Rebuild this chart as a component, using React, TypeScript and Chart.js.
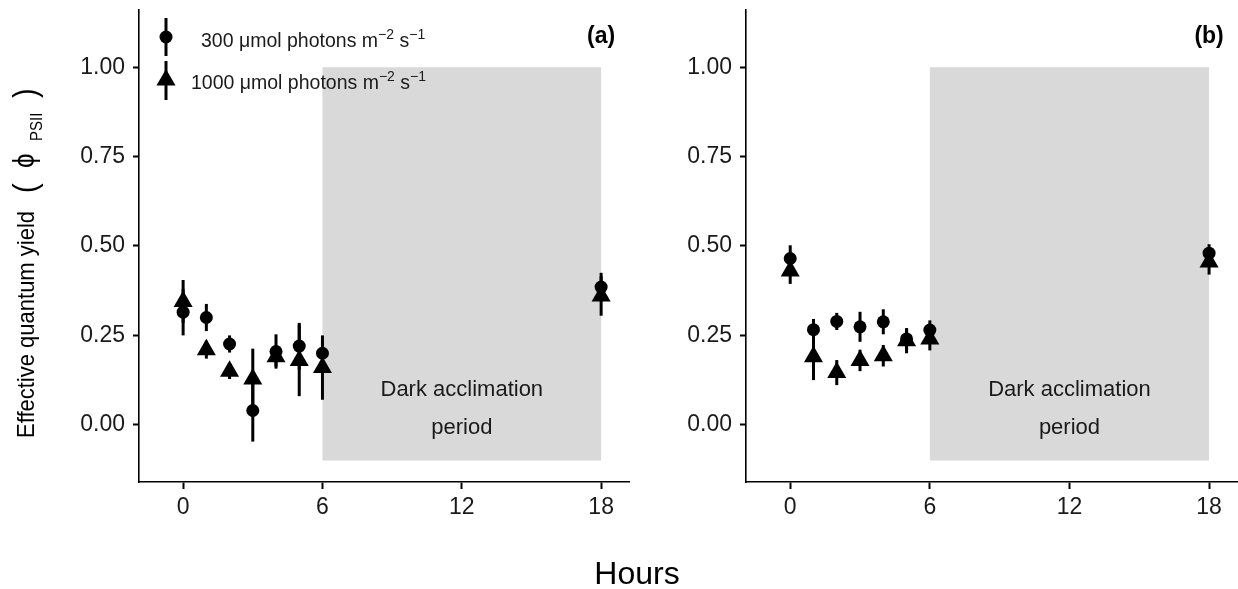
import React, { useEffect, useRef } from "react";
import { Chart, registerables } from "chart.js";

Chart.register(...registerables);

// ---------- data ----------
const hours = [0, 1, 2, 3, 4, 5, 6, 18];

// panel (a)
const aLowMean = [0.315, 0.3, 0.226, 0.04, 0.205, 0.22, 0.2, 0.385];
const aLowErr = [0.065, 0.038, 0.024, 0.087, 0.048, 0.065, 0.035, 0.04];
const aHighMean = [0.345, 0.21, 0.15, 0.128, 0.19, 0.18, 0.16, 0.36];
const aHighErr = [0.06, 0.025, 0.022, 0.085, 0.027, 0.1, 0.09, 0.055];

// panel (b)
const bLowMean = [0.465, 0.266, 0.289, 0.274, 0.288, 0.24, 0.265, 0.48];
const bLowErr = [0.037, 0.03, 0.024, 0.042, 0.035, 0.03, 0.027, 0.025];
const bHighMean = [0.43, 0.19, 0.146, 0.18, 0.193, 0.235, 0.24, 0.455];
const bHighErr = [0.036, 0.065, 0.035, 0.03, 0.03, 0.035, 0.032, 0.035];

const xTicks = [0, 6, 12, 18];
const yTicks = [0, 0.25, 0.5, 0.75, 1.0];
const xRange = [-1.9, 19.2];
const yRange = [-0.16, 1.16];

const darkPeriod = [6, 18];
const darkYRange = [-0.1, 1.0];
const darkLabel = ["Dark acclimation", "period"];
const darkLabelY = [0.098, -0.008];
const darkLabelX = 12;

const panelLabels = ["(a)", "(b)"];
const panelLabelPos = [18, 1.085];

const legendLabels = ["300 μmol photons m", "1000 μmol photons m"];
const yTitle = "Effective quantum yield";
const xTitle = "Hours";

// ---------- styling ----------
const FONT = "'Liberation Sans', Arial, 'DejaVu Sans', sans-serif";
const SHADE = "#d9d9d9";
const INK = "#000000";
const TICK_INK = "#1a1a1a";

function drawErrorBars(chart: any) {
  const { ctx, scales } = chart;
  const x = scales.x;
  const y = scales.y;
  ctx.save();
  ctx.strokeStyle = INK;
  ctx.lineWidth = 3;
  ctx.lineCap = "butt";
  chart.data.datasets.forEach((ds: any) => {
    const errs = ds.errors as number[];
    if (!errs) return;
    ds.data.forEach((p: any, i: number) => {
      const px = x.getPixelForValue(p.x);
      const y1 = y.getPixelForValue(p.y - errs[i]);
      const y2 = y.getPixelForValue(p.y + errs[i]);
      ctx.beginPath();
      ctx.moveTo(px, y1);
      ctx.lineTo(px, y2);
      ctx.stroke();
    });
  });
  ctx.restore();
}

function makePanelPlugin(label: string) {
  return {
    id: "panelDecor",
    beforeDatasetsDraw(chart: any) {
      const { ctx, scales } = chart;
      const x = scales.x;
      const y = scales.y;
      const x0 = x.getPixelForValue(darkPeriod[0]);
      const x1 = x.getPixelForValue(darkPeriod[1]);
      const y0 = y.getPixelForValue(darkYRange[1]);
      const y1 = y.getPixelForValue(darkYRange[0]);
      ctx.save();
      ctx.fillStyle = SHADE;
      ctx.fillRect(x0, y0, x1 - x0, y1 - y0);
      ctx.fillStyle = "#1a1a1a";
      ctx.font = `22px ${FONT}`;
      ctx.textAlign = "center";
      ctx.textBaseline = "middle";
      darkLabel.forEach((t, i) => {
        ctx.fillText(t, x.getPixelForValue(darkLabelX), y.getPixelForValue(darkLabelY[i]));
      });
      ctx.restore();
      drawErrorBars(chart);
    },
    afterDraw(chart: any) {
      const { ctx, scales } = chart;
      ctx.save();
      ctx.fillStyle = INK;
      ctx.font = `bold 23px ${FONT}`;
      ctx.textAlign = "center";
      ctx.textBaseline = "middle";
      ctx.fillText(
        label,
        scales.x.getPixelForValue(panelLabelPos[0]),
        scales.y.getPixelForValue(panelLabelPos[1])
      );
      ctx.restore();
    },
  };
}

function drawRuns(ctx: any, x: number, baseline: number, runs: { t: string; font: string; dy: number }[]) {
  let cx = x;
  runs.forEach((r) => {
    ctx.font = r.font;
    ctx.fillText(r.t, cx, baseline + r.dy);
    cx += ctx.measureText(r.t).width;
  });
}

const legendPlugin = {
  id: "customLegend",
  afterDraw(chart: any) {
    const { ctx } = chart;
    ctx.save();
    ctx.fillStyle = INK;
    ctx.strokeStyle = INK;
    ctx.lineWidth = 3;
    // circle key
    ctx.beginPath();
    ctx.moveTo(166, 18);
    ctx.lineTo(166, 56);
    ctx.stroke();
    ctx.beginPath();
    ctx.arc(166, 37, 6.5, 0, Math.PI * 2);
    ctx.fill();
    // triangle key
    ctx.beginPath();
    ctx.moveTo(166, 61);
    ctx.lineTo(166, 100);
    ctx.stroke();
    const r = 11;
    const cy = 80;
    ctx.beginPath();
    ctx.moveTo(166, cy - r);
    ctx.lineTo(166 + r * Math.sin(Math.PI / 3), cy + r / 2);
    ctx.lineTo(166 - r * Math.sin(Math.PI / 3), cy + r / 2);
    ctx.closePath();
    ctx.fill();

    ctx.textAlign = "left";
    ctx.textBaseline = "alphabetic";
    ctx.fillStyle = "#1a1a1a";
    const big = `19.5px ${FONT}`;
    const small = `14px ${FONT}`;
    const starts = [201, 191];
    const bases = [47, 89];
    legendLabels.forEach((lab, i) => {
      drawRuns(ctx, starts[i], bases[i], [
        { t: lab, font: big, dy: 0 },
        { t: "\u22122", font: small, dy: -8 },
        { t: " s", font: big, dy: 0 },
        { t: "\u22121", font: small, dy: -8 },
      ]);
    });
    ctx.restore();
  },
};

const yTitlePlugin = {
  id: "yTitle",
  afterDraw(chart: any) {
    const { ctx } = chart;
    ctx.save();
    ctx.translate(34, 438);
    ctx.rotate(-Math.PI / 2);
    ctx.scale(1, 1.12);
    ctx.fillStyle = INK;
    ctx.textAlign = "left";
    ctx.textBaseline = "alphabetic";
    ctx.font = `22px ${FONT}`;
    ctx.fillText(yTitle, 0, 0);
    ctx.font = `29px ${FONT}`;
    ctx.fillText("(", 245, 2);
    ctx.font = `26px ${FONT}`;
    ctx.fillText("\u03D5", 270, 0);
    ctx.font = `15px ${FONT}`;
    ctx.fillText("PSII", 297, 7);
    ctx.font = `29px ${FONT}`;
    ctx.fillText(")", 340, 2);
    ctx.restore();
  },
};

const xTitlePlugin = {
  id: "xTitle",
  afterDraw(chart: any) {
    const { ctx } = chart;
    ctx.save();
    ctx.fillStyle = INK;
    ctx.font = `32px ${FONT}`;
    ctx.textAlign = "center";
    ctx.textBaseline = "middle";
    ctx.fillText(xTitle, 637, 575);
    ctx.restore();
  },
};

function buildConfig(
  lowMean: number[],
  lowErr: number[],
  highMean: number[],
  highErr: number[],
  axisLeft: number,
  padRight: number,
  extraPlugins: any[],
  label: string
): any {
  return {
    type: "scatter",
    data: {
      datasets: [
        {
          label: "1000",
          data: hours.map((h, i) => ({ x: h, y: highMean[i] })),
          errors: highErr,
          pointStyle: "triangle",
          pointRadius: 11,
          pointHoverRadius: 11,
          backgroundColor: INK,
          borderColor: INK,
          borderWidth: 0,
          showLine: false,
        },
        {
          label: "300",
          data: hours.map((h, i) => ({ x: h, y: lowMean[i] })),
          errors: lowErr,
          pointStyle: "circle",
          pointRadius: 6.5,
          pointHoverRadius: 6.5,
          backgroundColor: INK,
          borderColor: INK,
          borderWidth: 0,
          showLine: false,
        },
      ],
    },
    options: {
      responsive: false,
      animation: false,
      devicePixelRatio: 1,
      events: [],
      layout: { autoPadding: false, padding: { top: 10, right: padRight, left: 0, bottom: 0 } },
      plugins: { legend: { display: false }, tooltip: { enabled: false } },
      scales: {
        x: {
          type: "linear",
          min: xRange[0],
          max: xRange[1],
          afterBuildTicks: (s: any) => {
            s.ticks = xTicks.map((v) => ({ value: v }));
          },
          afterFit: (s: any) => {
            s.height = 107;
            s.paddingLeft = 0;
            s.paddingRight = 0;
            s.paddingTop = 0;
            s.paddingBottom = 0;
          },
          grid: {
            drawOnChartArea: false,
            drawTicks: true,
            tickLength: 7,
            tickWidth: 2,
            tickColor: INK,
          },
          border: { display: true, color: INK, width: 1.6 },
          ticks: {
            font: { family: FONT, size: 23 },
            color: TICK_INK,
            padding: 5,
            maxRotation: 0,
            autoSkip: false,
            callback: (v: any) => String(v),
          },
        },
        y: {
          type: "linear",
          min: yRange[0],
          max: yRange[1],
          afterBuildTicks: (s: any) => {
            s.ticks = yTicks.map((v) => ({ value: v }));
          },
          afterFit: (s: any) => {
            s.width = axisLeft;
            s.paddingLeft = 0;
            s.paddingRight = 0;
            s.paddingTop = 0;
            s.paddingBottom = 0;
          },
          grid: {
            drawOnChartArea: false,
            drawTicks: true,
            tickLength: 6,
            tickWidth: 2,
            tickColor: INK,
          },
          border: { display: true, color: INK, width: 1.6 },
          ticks: {
            font: { family: FONT, size: 23 },
            color: TICK_INK,
            padding: 8,
            autoSkip: false,
            callback: (v: any) => Number(v).toFixed(2),
          },
        },
      },
    },
    plugins: [makePanelPlugin(label), ...extraPlugins],
  };
}

export default function App() {
  const refA = useRef<HTMLCanvasElement>(null);
  const refB = useRef<HTMLCanvasElement>(null);

  useEffect(() => {
    const chartA = new Chart(
      refA.current as HTMLCanvasElement,
      buildConfig(aLowMean, aLowErr, aHighMean, aHighErr, 139, 1238 - 629, [legendPlugin, yTitlePlugin], panelLabels[0])
    );
    const chartB = new Chart(
      refB.current as HTMLCanvasElement,
      buildConfig(bLowMean, bLowErr, bHighMean, bHighErr, 746, 1, [xTitlePlugin], panelLabels[1])
    );
    return () => {
      chartA.destroy();
      chartB.destroy();
    };
  }, []);

  const canvasStyle: React.CSSProperties = {
    position: "absolute",
    left: 0,
    top: 0,
    width: 1238,
    height: 589,
  };

  return (
    <div
      style={{
        position: "fixed",
        left: 0,
        top: 0,
        width: 1238,
        height: 589,
        background: "#ffffff",
        overflow: "hidden",
      }}
    >
      <canvas ref={refA} width={1238} height={589} style={canvasStyle} />
      <canvas ref={refB} width={1238} height={589} style={canvasStyle} />
    </div>
  );
}
